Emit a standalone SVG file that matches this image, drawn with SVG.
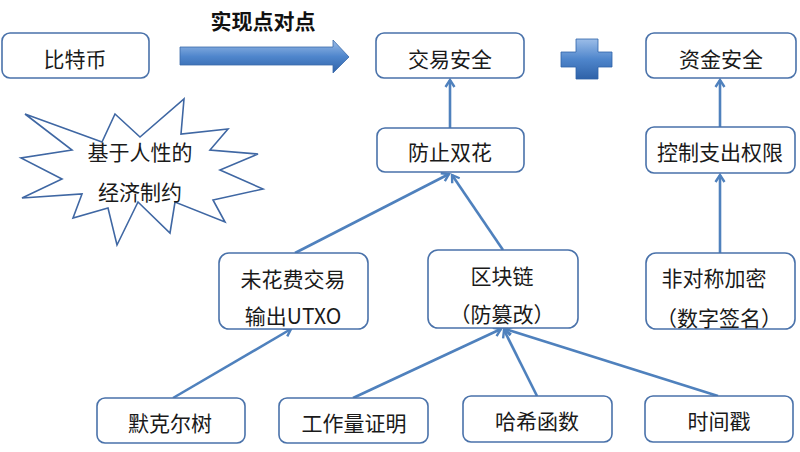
<svg xmlns="http://www.w3.org/2000/svg" width="800" height="452" viewBox="0 0 800 452">
<style>
.box{fill:#fff;stroke:#4a72aa;stroke-width:1.6}
.t{font-family:"Noto Sans CJK SC","Noto Sans",sans-serif;font-size:21px;fill:#1a1a1a;text-anchor:middle}
.title{font-family:"Noto Sans CJK SC","Noto Sans",sans-serif;font-size:21px;font-weight:bold;fill:#111;text-anchor:middle}
.c{fill:none;stroke:#4f81bd;stroke-width:2.6;marker-end:url(#ah)}
</style>
<defs>
<marker id="ah" markerWidth="12" markerHeight="12" refX="9" refY="6" orient="auto" markerUnits="userSpaceOnUse">
<path d="M2,1.5 L9,6 L2,10.5" fill="none" stroke="#4f81bd" stroke-width="2.4"/>
</marker>
<linearGradient id="bg" x1="0" y1="0" x2="0" y2="1">
<stop offset="0" stop-color="#9cbde8"/>
<stop offset="0.5" stop-color="#4f86cc"/>
<stop offset="1" stop-color="#2f62a8"/>
</linearGradient>
</defs>
<rect width="800" height="452" fill="#fff"/>
<g id="title"><text class="title" x="263" y="29">实现点对点</text></g>
<g id="bigarrow"><path d="M180,47 L333,47 L333,40 L349,57 L333,73 L333,65 L180,65 Z" fill="url(#bg)" stroke="#3a6aaa" stroke-width="0.8"/></g>
<g id="plus"><path d="M576,39 L598,39 L598,52 L612,52 L612,67 L598,67 L598,79 L576,79 L576,67 L561,67 L561,52 L576,52 Z" fill="url(#bg)" stroke="#2f62a8" stroke-width="0.8"/></g>
<g id="star">
<path d="M25,114 L102,142 L115,114 L140,137 L184,99 L181,134 L228,129 L210,150 L258,154 L220,170 L263,189 L213,200 L225,222 L175,202 L170,233 L138,202 L117,245 L108,208 L73,218 L82,194 L22,198 L62,179 L21,158 L72,150 Z" fill="#fff" stroke="#3f67a3" stroke-width="1.6"/>
<text class="t" x="140" y="160">基于人性的</text>
<text class="t" x="140" y="200">经济制约</text>
</g>
<g id="connectors">
<path class="c" d="M450,128 L450,80"/>
<path class="c" d="M720,127 L720,80"/>
<path class="c" d="M720,253 L720,175"/>
<path class="c" d="M295,253 L449,174"/>
<path class="c" d="M503,250 L452,175"/>
<path class="c" d="M173,398 L291,329"/>
<path class="c" d="M353,398 L501,329"/>
<path class="c" d="M537,396 L504,330"/>
<path class="c" d="M718,396 L505,329"/>
</g>
<g id="n-btc"><rect class="box" x="2" y="33" width="147" height="45" rx="8"/><text class="t" x="75" y="67">比特币</text></g>
<g id="n-jyaq"><rect class="box" x="376" y="33" width="148" height="45" rx="8"/><text class="t" x="450" y="67">交易安全</text></g>
<g id="n-zjaq"><rect class="box" x="646" y="33" width="150" height="45" rx="8"/><text class="t" x="721" y="67">资金安全</text></g>
<g id="n-fzsh"><rect class="box" x="377" y="128" width="147" height="44" rx="8"/><text class="t" x="450" y="160">防止双花</text></g>
<g id="n-kz"><rect class="box" x="646" y="127" width="149" height="46" rx="8"/><text class="t" x="720" y="160">控制支出权限</text></g>
<g id="n-utxo"><rect class="box" x="219" y="253" width="149" height="76" rx="10"/><text class="t" x="293" y="287">未花费交易</text><text class="t" x="293" y="324">输出UTXO</text></g>
<g id="n-qkl"><rect class="box" x="428" y="250" width="150" height="78" rx="10"/><text class="t" x="502" y="284">区块链</text><text class="t" x="502" y="322">（防篡改）</text></g>
<g id="n-fdc"><rect class="box" x="646" y="253" width="149" height="76" rx="10"/><text class="t" x="714" y="286">非对称加密</text><text class="t" x="719" y="326">（数字签名）</text></g>
<g id="n-mke"><rect class="box" x="97" y="398" width="148" height="45" rx="8"/><text class="t" x="170" y="431">默克尔树</text></g>
<g id="n-gzl"><rect class="box" x="279" y="398" width="149" height="45" rx="8"/><text class="t" x="354" y="431">工作量证明</text></g>
<g id="n-hx"><rect class="box" x="463" y="396" width="149" height="46" rx="8"/><text class="t" x="537" y="429">哈希函数</text></g>
<g id="n-sjc"><rect class="box" x="645" y="396" width="148" height="46" rx="8"/><text class="t" x="719" y="429">时间戳</text></g>
</svg>
